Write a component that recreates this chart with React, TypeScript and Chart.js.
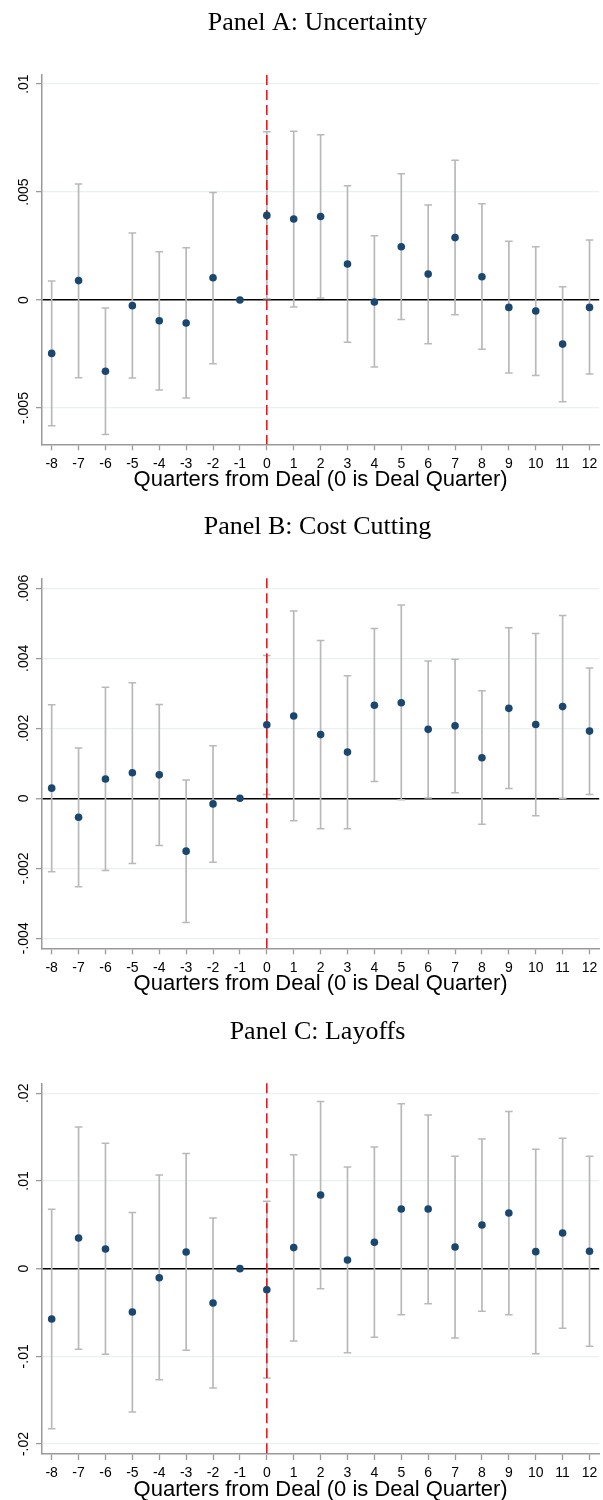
import React, { useEffect, useRef } from "react";
import { Chart, registerables } from "chart.js";

Chart.register(...registerables);

// Event-time axis: quarters relative to the deal quarter
const QUARTERS = [-8, -7, -6, -5, -4, -3, -2, -1, 0, 1, 2, 3, 4, 5, 6, 7, 8, 9, 10, 11, 12];

// Panel A: Uncertainty — point estimates and 95% bounds (quarter -1 is the omitted base)
const UNC_COEF = [-0.00247, 0.0009, -0.0033, -0.00026, -0.00096, -0.00106, 0.00103, 0, 0.00392, 0.00375, 0.00387, 0.00167, -0.00009, 0.00247, 0.0012, 0.00289, 0.00108, -0.00034, -0.00051, -0.00204, -0.00034];
const UNC_LO = [-0.00582, -0.0036, -0.00623, -0.00361, -0.00417, -0.00454, -0.00295, null, 0.00006, -0.00032, 0.00009, -0.00196, -0.0031, -0.0009, -0.00202, -0.00068, -0.00228, -0.00338, -0.0035, -0.00471, -0.00343];
const UNC_HI = [0.00088, 0.00537, -0.00037, 0.0031, 0.00224, 0.00242, 0.00498, null, 0.00779, 0.00782, 0.00765, 0.00529, 0.00298, 0.00585, 0.0044, 0.00647, 0.00446, 0.00272, 0.00247, 0.00062, 0.00278];
const UNC_TICKS = [-0.005, 0, 0.005, 0.01];
const UNC_TICK_LABELS = ["-.005", "0", ".005", ".01"];

// Panel B: Cost Cutting
const COST_COEF = [0.00029, -0.00054, 0.00055, 0.00073, 0.00067, -0.00151, -0.00016, 0, 0.0021, 0.00235, 0.00182, 0.00132, 0.00266, 0.00273, 0.00197, 0.00207, 0.00116, 0.00257, 0.00211, 0.00262, 0.00192];
const COST_LO = [-0.0021, -0.00253, -0.00206, -0.00186, -0.00135, -0.00355, -0.00183, null, 0.00011, -0.00064, -0.00087, -0.00087, 0.00048, -0.00004, 0.00001, 0.00016, -0.00074, 0.00028, -0.0005, 0.0, 0.00011];
const COST_HI = [0.00267, 0.00144, 0.00317, 0.0033, 0.00268, 0.00052, 0.0015, null, 0.00408, 0.00535, 0.00451, 0.0035, 0.00485, 0.00552, 0.00392, 0.00397, 0.00307, 0.00487, 0.00471, 0.00522, 0.00372];
const COST_TICKS = [-0.004, -0.002, 0, 0.002, 0.004, 0.006];
const COST_TICK_LABELS = ["-.004", "-.002", "0", ".002", ".004", ".006"];

// Panel C: Layoffs
const LAY_COEF = [-0.00574, 0.0035, 0.00224, -0.00494, -0.00103, 0.0019, -0.00392, 0, -0.0024, 0.0024, 0.0084, 0.00099, 0.003, 0.0068, 0.0068, 0.00247, 0.00498, 0.00635, 0.00194, 0.00407, 0.00198];
const LAY_LO = [-0.01825, -0.0092, -0.00977, -0.01635, -0.01266, -0.00932, -0.01361, null, -0.01247, -0.00825, -0.00228, -0.00958, -0.00783, -0.00525, -0.00399, -0.00791, -0.00487, -0.00525, -0.0097, -0.00681, -0.00886];
const LAY_HI = [0.00677, 0.01616, 0.0143, 0.00639, 0.01068, 0.01312, 0.00578, null, 0.00768, 0.013, 0.01905, 0.0116, 0.01388, 0.01882, 0.01753, 0.01281, 0.01479, 0.01791, 0.01361, 0.01487, 0.01281];
const LAY_TICKS = [-0.02, -0.01, 0, 0.01, 0.02];
const LAY_TICK_LABELS = ["-.02", "-.01", "0", ".01", ".02"];

const X_TITLE = "Quarters from Deal (0 is Deal Quarter)";

const NAVY = "#1a476f";
const BAR = "#b9b9b9";
const GRID = "#e8f0f2";
const AXIS = "#9a9a9a";
const SANS = "'Liberation Sans', Arial, sans-serif";
const SERIF = "'Liberation Serif', 'Times New Roman', serif";

type PanelProps = {
  title: string;
  coef: number[];
  lo: (number | null)[];
  hi: (number | null)[];
  ticks: number[];
  tickLabels: string[];
  yMin: number;
  yMax: number;
  top: number;
  height: number;
  areaTop: number;
  areaBottom: number;
};

const WIDTH = 603;
const AXIS_W = 42;

function Panel(p: PanelProps) {
  const ref = useRef<HTMLCanvasElement | null>(null);

  useEffect(() => {
    const canvas = ref.current;
    if (!canvas) return;

    const decor = {
      id: "coefDecor",
      beforeDatasetsDraw(chart: any) {
        const { ctx, chartArea } = chart;
        const xs = chart.scales.x;
        const ys = chart.scales.y;
        ctx.save();
        // confidence intervals with caps
        ctx.strokeStyle = BAR;
        QUARTERS.forEach((q, i) => {
          const l = p.lo[i];
          const h = p.hi[i];
          if (l === null || h === null) return;
          const x = xs.getPixelForValue(q);
          const y1 = ys.getPixelForValue(l);
          const y2 = ys.getPixelForValue(h);
          ctx.lineWidth = 1.7;
          ctx.beginPath();
          ctx.moveTo(x, y1);
          ctx.lineTo(x, y2);
          ctx.stroke();
          ctx.lineWidth = 1.5;
          ctx.beginPath();
          ctx.moveTo(x - 3.8, y1);
          ctx.lineTo(x + 3.8, y1);
          ctx.moveTo(x - 3.8, y2);
          ctx.lineTo(x + 3.8, y2);
          ctx.stroke();
        });
        // deal-quarter marker
        const x0 = xs.getPixelForValue(0);
        ctx.strokeStyle = "#ff0000";
        ctx.lineWidth = 1.5;
        ctx.setLineDash([10, 5]);
        ctx.beginPath();
        ctx.moveTo(x0, chartArea.top);
        ctx.lineTo(x0, chartArea.bottom);
        ctx.stroke();
        ctx.restore();
      },
      afterDraw(chart: any) {
        const { ctx, chartArea } = chart;
        const ys = chart.scales.y;
        ctx.save();
        ctx.fillStyle = "#000";
        ctx.textAlign = "center";
        ctx.textBaseline = "middle";
        // panel title
        ctx.font = `26px ${SERIF}`;
        ctx.fillText(p.title, 317.5, chartArea.top - 51.5);
        // x-axis title
        ctx.font = `22px ${SANS}`;
        ctx.fillText(X_TITLE, (chartArea.left + chartArea.right) / 2, chartArea.bottom + 36);
        // rotated y tick labels
        ctx.font = `14px ${SANS}`;
        p.ticks.forEach((v, i) => {
          const y = ys.getPixelForValue(v);
          ctx.save();
          ctx.translate(24, y);
          ctx.rotate(-Math.PI / 2);
          ctx.fillText(p.tickLabels[i], 0, 0);
          ctx.restore();
        });
        ctx.restore();
      },
    };

    const chart = new Chart(canvas, {
      type: "scatter",
      data: {
        datasets: [
          {
            data: QUARTERS.map((q, i) => ({ x: q, y: p.coef[i] })),
            pointRadius: 3.8,
            pointHoverRadius: 3.8,
            pointBackgroundColor: NAVY,
            pointBorderWidth: 0,
            showLine: false,
          },
        ],
      },
      options: {
        animation: false,
        responsive: false,
        maintainAspectRatio: false,
        events: [],
        layout: { padding: { top: p.areaTop, left: 0, right: 0, bottom: 0 } },
        plugins: {
          legend: { display: false },
          tooltip: { enabled: false },
          title: { display: false },
        },
        scales: {
          x: {
            type: "linear",
            min: -8.36,
            max: 12.36,
            afterBuildTicks: (s: any) => {
              s.ticks = QUARTERS.map((v) => ({ value: v }));
            },
            grid: {
              drawOnChartArea: false,
              drawTicks: true,
              tickLength: 6,
              tickColor: AXIS,
              tickWidth: 1.3,
            },
            border: { color: AXIS, width: 1.5 },
            ticks: {
              font: { family: SANS, size: 14 },
              color: "#000",
              padding: 5,
              maxRotation: 0,
              autoSkip: false,
              callback: (v: any) => String(v),
            },
            afterFit: (s: any) => {
              s.height = p.height - p.areaBottom;
              s.paddingLeft = 0;
              s.paddingRight = 0;
            },
          },
          y: {
            type: "linear",
            min: p.yMin,
            max: p.yMax,
            afterBuildTicks: (s: any) => {
              s.ticks = p.ticks.map((v) => ({ value: v }));
            },
            grid: {
              color: (c: any) => (c.tick && c.tick.value === 0 ? "#000000" : GRID),
              lineWidth: (c: any) => (c.tick && c.tick.value === 0 ? 1.5 : 1.2),
              drawTicks: true,
              tickLength: 6,
              tickColor: AXIS,
              tickWidth: 1.3,
            },
            border: { color: AXIS, width: 1.5 },
            ticks: { display: false },
            afterFit: (s: any) => {
              s.width = AXIS_W;
              s.paddingTop = 0;
              s.paddingBottom = 0;
            },
          },
        },
      },
      plugins: [decor],
    } as any);

    return () => chart.destroy();
  }, []);

  return (
    <canvas
      ref={ref}
      width={WIDTH}
      height={p.height}
      style={{ position: "absolute", left: 0, top: p.top, width: WIDTH, height: p.height, display: "block" }}
    />
  );
}

export default function App() {
  return (
    <div style={{ position: "absolute", left: 0, top: 0, width: WIDTH, height: 1500, background: "#fff" }}>
      <Panel
        title="Panel A: Uncertainty"
        coef={UNC_COEF}
        lo={UNC_LO}
        hi={UNC_HI}
        ticks={UNC_TICKS}
        tickLabels={UNC_TICK_LABELS}
        yMin={-0.00668}
        yMax={0.01042}
        top={0}
        height={503}
        areaTop={75}
        areaBottom={444.3}
      />
      <Panel
        title="Panel B: Cost Cutting"
        coef={COST_COEF}
        lo={COST_LO}
        hi={COST_HI}
        ticks={COST_TICKS}
        tickLabels={COST_TICK_LABELS}
        yMin={-0.004286}
        yMax={0.006286}
        top={503}
        height={503}
        areaTop={75.3}
        areaBottom={445.3}
      />
      <Panel
        title="Panel C: Layoffs"
        coef={LAY_COEF}
        lo={LAY_LO}
        hi={LAY_HI}
        ticks={LAY_TICKS}
        tickLabels={LAY_TICK_LABELS}
        yMin={-0.02114}
        yMax={0.02114}
        top={1006}
        height={494}
        areaTop={77.3}
        areaBottom={448}
      />
    </div>
  );
}
